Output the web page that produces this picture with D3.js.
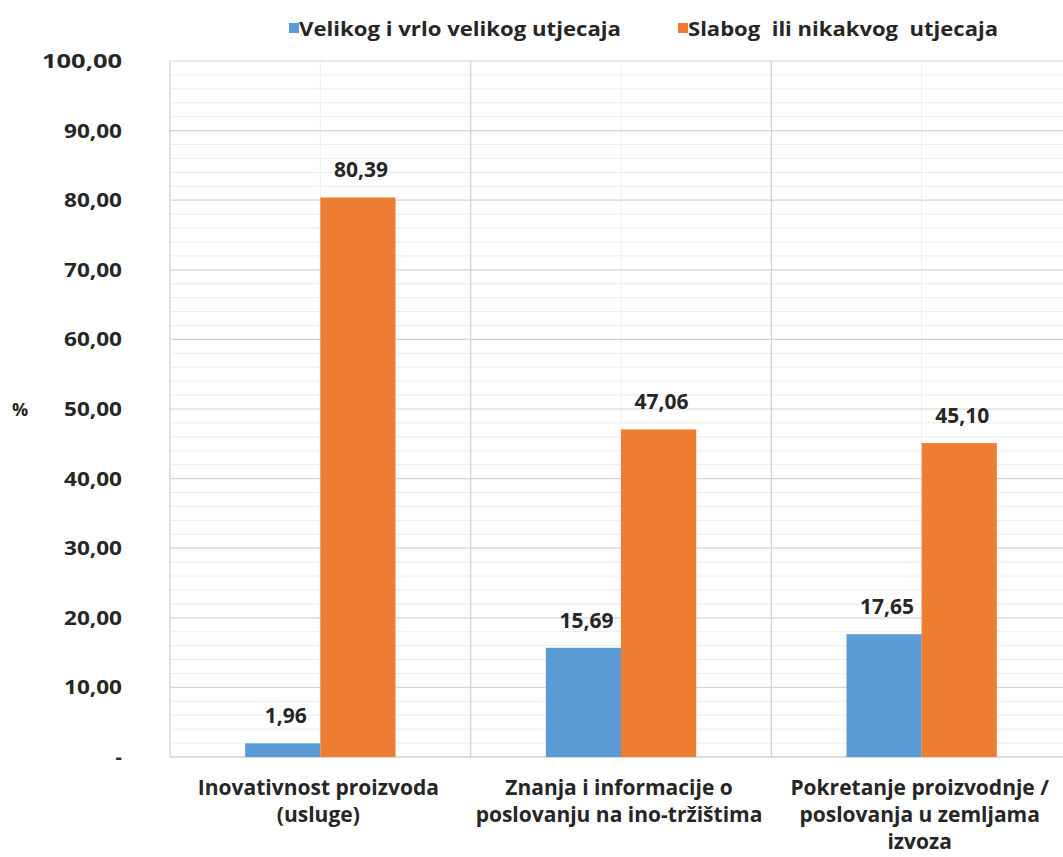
<!DOCTYPE html>
<html><head><meta charset="utf-8">
<script src="https://cdn.jsdelivr.net/npm/d3@7"></script>
<style>
body{margin:0;background:#fff;}
svg text{font-family:"Open Sans", Lato, sans-serif;font-weight:bold;fill:#262626;}
</style></head>
<body><svg id="c" width="1063" height="857"></svg>
<script>
const categories = [
  ["Inovativnost proizvoda", "(usluge)"],
  ["Znanja i informacije o", "poslovanju na ino-tržištima"],
  ["Pokretanje proizvodnje /", "poslovanja u zemljama", "izvoza"]
];
const seriesNames = ["Velikog i vrlo velikog utjecaja", "Slabog  ili nikakvog  utjecaja"];
const seriesVelikog = [1.96, 15.69, 17.65];
const seriesSlabog = [80.39, 47.06, 45.10];
const yTicks = [0, 10, 20, 30, 40, 50, 60, 70, 80, 90, 100];
const colors = ["#5B9BD5", "#ED7D31"];

const svg = d3.select("#c");
const pL = 170, pR = 1072, pT = 61, pB = 757;
const x = d3.scaleBand().domain(d3.range(categories.length)).range([pL, pR]);
const y = d3.scaleLinear().domain([0, 100]).range([pB, pT]);
const fmt = v => v.toFixed(2).replace(".", ",");

// minor gridlines
svg.append("g").selectAll("line").data(d3.range(0, 101, 2).filter(v => v % 10 !== 0))
  .join("line").attr("x1", pL).attr("x2", pR)
  .attr("y1", d => y(d)).attr("y2", d => y(d))
  .attr("stroke", "#ececec").attr("stroke-width", 1);
// minor vertical lines
svg.append("g").selectAll("line").data(d3.range(categories.length))
  .join("line").attr("x1", d => x(d) + x.bandwidth() / 2).attr("x2", d => x(d) + x.bandwidth() / 2)
  .attr("y1", pT).attr("y2", pB).attr("stroke", "#eeeeee");
// major gridlines
svg.append("g").selectAll("line").data(yTicks.filter(v => v > 0))
  .join("line").attr("x1", pL).attr("x2", pR)
  .attr("y1", d => y(d)).attr("y2", d => y(d))
  .attr("stroke", "#d4d4d4").attr("stroke-width", 1.2);
// vertical separators
svg.append("g").selectAll("line").data(d3.range(categories.length + 1))
  .join("line").attr("x1", d => d < categories.length ? x(d) : pR).attr("x2", d => d < categories.length ? x(d) : pR)
  .attr("y1", pT).attr("y2", pB).attr("stroke", "#cfcfcf").attr("stroke-width", 1.2);
// baseline
svg.append("line").attr("x1", pL).attr("x2", pR).attr("y1", pB).attr("y2", pB)
  .attr("stroke", "#d0d0d0").attr("stroke-width", 1.5);

const x1 = d3.scaleBand().domain([0, 1]).range([0, x.bandwidth()]).paddingOuter(1);
const data = [seriesVelikog, seriesSlabog];
data.forEach((vals, s) => {
  const g = svg.append("g");
  g.selectAll("rect").data(vals).join("rect")
    .attr("x", (d, i) => x(i) + x1(s)).attr("width", x1.bandwidth())
    .attr("y", d => y(d)).attr("height", d => y(0) - y(d)).attr("fill", colors[s]);
  g.selectAll("text").data(vals).join("text")
    .attr("x", (d, i) => x(i) + x1(s) + x1.bandwidth() / 2 + 3)
    .attr("y", d => y(d) - 20).attr("text-anchor", "middle")
    .attr("font-size", 21).text(fmt);
});

// y axis labels
svg.append("g").selectAll("text").data(yTicks).join("text")
  .attr("x", 122).attr("y", d => y(d) + 7).attr("text-anchor", "end")
  .attr("font-size", 20)
  .attr("textLength", d => d === 0 ? null : (d === 100 ? 80 : 58))
  .attr("lengthAdjust", "spacingAndGlyphs")
  .text(d => d === 0 ? "-" : fmt(d));
svg.append("text").attr("x", 20).attr("y", y(50) + 7).attr("text-anchor", "middle")
  .attr("font-size", 18).text("%");

// category labels
categories.forEach((lines, i) => {
  const t = svg.append("text").attr("text-anchor", "middle").attr("font-size", 21);
  lines.forEach((l, j) => t.append("tspan").attr("x", x(i) + x.bandwidth() / 2 - 2)
    .attr("y", 795 + j * 27).text(l));
});

// legend
const legX = [289, 678];
const legLen = [322, 310];
seriesNames.forEach((n, s) => {
  svg.append("rect").attr("x", legX[s]).attr("y", 23).attr("width", 10).attr("height", 10).attr("fill", colors[s]);
  svg.append("text").attr("x", legX[s] + 10).attr("y", 36).attr("font-size", 20)
    .attr("xml:space", "preserve").attr("textLength", legLen[s]).attr("lengthAdjust", "spacingAndGlyphs").text(n);
});
</script></body></html>
